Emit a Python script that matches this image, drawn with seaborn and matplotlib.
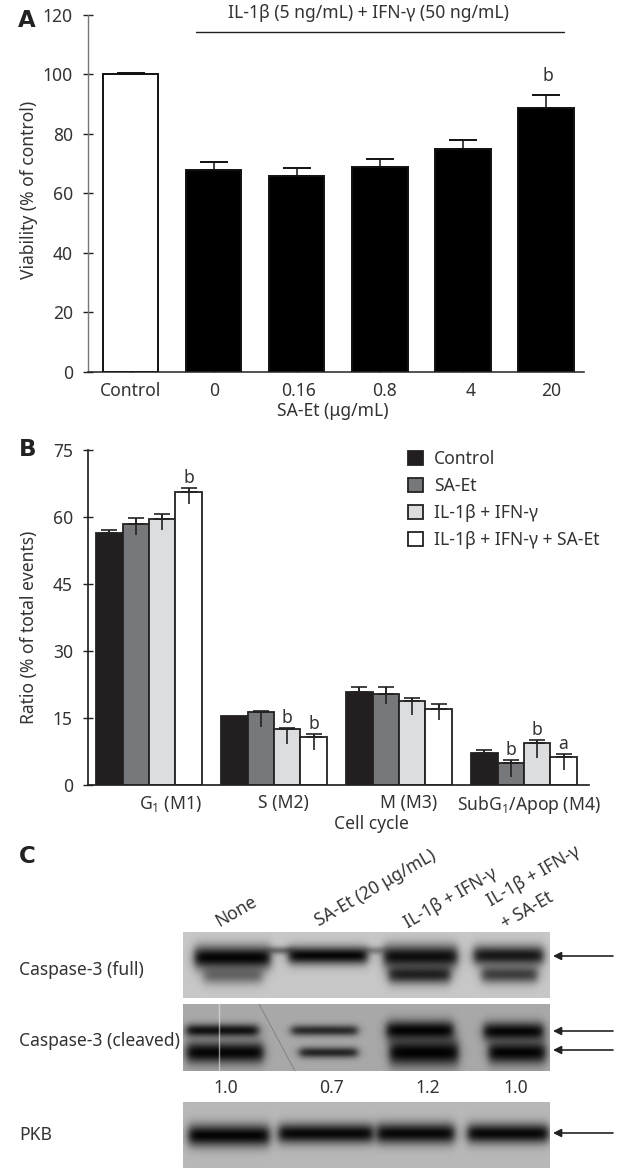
import matplotlib
matplotlib.use('Agg')
import matplotlib.pyplot as plt
from matplotlib.transforms import ScaledTranslation
import seaborn as sns
import pandas as pd
import numpy as np

# Panel A
doses = ['Control', '0', '0.16', '0.8', '4', '20']
viability = [100, 67.7, 65.7, 68.8, 75, 88.5]
viability_err = [0.5, 2.8, 2.8, 2.7, 2.8, 4.5]
# Panel B
phases = ['$\\mathregular{G_1}$ (M1)', 'S (M2)', 'M (M3)', 'Sub$\\mathregular{G_1}$/Apop (M4)']
treatments = ['Control', 'SA-Et', 'IL-1β + IFN-γ', 'IL-1β + IFN-γ + SA-Et']
control = [56.5, 15.4, 20.8, 7.3]
sa_et = [58.5, 16.3, 20.4, 4.9]
cytokines = [59.6, 12.5, 18.8, 9.4]
cytokines_sa = [65.5, 10.8, 17.0, 6.3]
err_up = [[0.7, 0.0, 1.1, 0.6], [1.2, 0.4, 1.5, 0.8], [1.1, 0.4, 0.7, 0.7], [1.0, 0.7, 1.1, 0.7]]
err_down = [[0.0, 0.0, 0.0, 0.0], [2.6, 3.3, 2.2, 3.0], [2.5, 3.3, 3.1, 3.4], [2.6, 3.0, 2.5, 2.9]]
sig_letters = {(3, 0): 'b', (2, 1): 'b', (3, 1): 'b', (1, 3): 'b', (2, 3): 'b', (3, 3): 'a'}
bar_colors = ['#231f20', '#77787b', '#dcddde', '#ffffff']
# Panel C: bands are (left, right, centre, half height, darkness)
lanes = ['None', 'SA-Et (20 μg/mL)', 'IL-1β + IFN-γ', 'IL-1β + IFN-γ', '+ SA-Et']
lane_anchor = [(221, 930), (321, 930), (410, 932), (493, 910), (507, 932)]
ratios = ['1.0', '0.7', '1.2', '1.0']
full_bands = [(194, 270, 957, 11.5, 0.98), (203, 262, 975, 9, 0.45),
              (288, 367, 955, 9, 0.97), (268, 292, 950, 4, 0.45), (365, 384, 950, 4, 0.35),
              (383, 457, 956, 11.5, 0.93), (388, 450, 974, 9.5, 0.82),
              (473, 543, 955, 10, 0.88), (481, 537, 974, 9, 0.68)]
cleaved_bands = [(186, 258, 1030, 6.5, 0.90), (186, 263, 1052, 11, 0.97),
                 (291, 357, 1030, 5.5, 0.75), (299, 357, 1052, 5.5, 0.78),
                 (386, 453, 1030, 10, 0.98), (389, 458, 1052, 13.5, 0.99),
                 (483, 543, 1031, 9.5, 0.96), (488, 545, 1052, 11.5, 0.98)]
pkb_bands = [(188, 269, 1135, 11, 0.98), (278, 373, 1133, 10, 0.96),
             (376, 454, 1133, 10.5, 0.96), (467, 548, 1133, 10, 0.96)]
arrow_rows = [956, 1031, 1050, 1133]

sns.set_theme(style='white', rc={'axes.edgecolor': '#222222'})
plt.rcParams['font.family'] = ['Noto Sans', 'DejaVu Sans']
plt.rcParams['mathtext.default'] = 'regular'
TXT = '#333333'
FS = 12.6
W, H = 630, 1170


def axes_px(fig, left, right, top, bottom):
    return fig.add_axes([left / W, 1 - bottom / H, (right - left) / W, (bottom - top) / H])


def shift_labels(ax, fig, offsets):
    # tick labels in the figure sit off-centre from their bars
    for lab, dx in zip(ax.get_xticklabels(), offsets):
        lab.set_transform(lab.get_transform() + ScaledTranslation(dx / 100, 0, fig.dpi_scale_trans))


def draw_blot(ov, top, bottom, bands, bg):
    X, Y = np.meshgrid(np.arange(183, 550), np.arange(top, bottom))
    img = np.full(X.shape, bg, dtype=float)
    for x0, x1, yc, half, dark in bands:
        fx = 0.5 * (np.tanh((X - x0) / 5) - np.tanh((X - x1) / 5))
        fy = np.exp(-np.abs((Y - yc) / half) ** 2)
        img *= 1 - dark * fx * fy
    ov.imshow(img, cmap='gray', vmin=0, vmax=1, extent=(183, 550, bottom, top),
              aspect='auto', interpolation='bilinear')


fig = plt.figure(figsize=(6.3, 11.7), dpi=100)

# A - viability
ax_a = axes_px(fig, 87.5, 584, 14.5, 372)
df_a = pd.DataFrame({'dose': doses, 'viability': viability})
sns.barplot(data=df_a, x='dose', y='viability', order=doses, errorbar=None, width=0.67,
            color='black', edgecolor='#111111', linewidth=1.4, ax=ax_a)
ax_a.patches[0].set_facecolor('white')
centres = [p.get_x() + p.get_width() / 2 for p in ax_a.patches]
ax_a.errorbar(centres, viability, yerr=[[0] * 6, viability_err], fmt='none', ecolor='#111111',
              elinewidth=1.1, capsize=10, capthick=1.4, zorder=3)
for line in ax_a.lines:
    line.set_color('#808080')
ax_a.set_xlim(-0.519, 5.46)
ax_a.set_ylim(0, 120)
ax_a.set_yticks(range(0, 121, 20))
ax_a.set_xlabel('SA-Et (μg/mL)', fontsize=FS, color=TXT, labelpad=0)
ax_a.xaxis.set_label_coords((333 - 87.5) / 496.5, -0.084, transform=ax_a.transAxes)
ax_a.set_ylabel('Viability (% of control)', fontsize=FS, color=TXT, labelpad=0)
ax_a.yaxis.set_label_coords((38 - 87.5) / 496.5, (372 - 190) / 357.5, transform=ax_a.transAxes)
ax_a.tick_params(axis='y', left=True, direction='inout', length=7, width=1, pad=7,
                 labelsize=FS, labelcolor=TXT, color='#222222')
ax_a.tick_params(axis='x', bottom=True, direction='in', length=6, width=1, pad=7,
                 labelsize=FS, labelcolor=TXT, color='#555555')
shift_labels(ax_a, fig, [0, 1, 1.5, 5, 8, 5])
sns.despine(ax=ax_a)
ax_a.spines['left'].set_color('#777777')
ax_a.spines['left'].set_linewidth(1)
ax_a.spines['bottom'].set_linewidth(1.1)
ax_a.text(centres[5] + 0.02, viability[5] + viability_err[5] + 3.4, 'b', ha='center', va='bottom',
          fontsize=FS, color=TXT)

# B - cell cycle
ax_b = axes_px(fig, 87.5, 589, 450, 785.3)
df_b = pd.DataFrame({'phase': phases, 'Control': control, 'SA-Et': sa_et,
                     treatments[2]: cytokines, treatments[3]: cytokines_sa})
df_b = df_b.melt(id_vars='phase', var_name='treatment', value_name='ratio')
sns.barplot(data=df_b, x='phase', y='ratio', hue='treatment', order=phases, hue_order=treatments,
            palette=bar_colors, saturation=1, errorbar=None, width=0.845,
            edgecolor='#222222', linewidth=1.3, ax=ax_b)
for h, cont in enumerate(list(ax_b.containers)):
    for g, bar in enumerate(cont):
        xc = bar.get_x() + bar.get_width() / 2
        top = bar.get_height()
        if err_up[h][g] > 0:
            ax_b.errorbar(xc, top, yerr=[[err_down[h][g]], [err_up[h][g]]], fmt='none',
                          ecolor='#222222', elinewidth=1.2, zorder=3)
            ax_b.errorbar(xc, top, yerr=[[0], [err_up[h][g]]], fmt='none', ecolor='#222222',
                          elinewidth=1.2, capsize=6, capthick=1.2, zorder=3)
        if (h, g) in sig_letters:
            ax_b.text(xc, top + err_up[h][g] + 0.2, sig_letters[(h, g)], ha='center', va='bottom',
                      fontsize=FS, color=TXT)
ax_b.set_xlim(-0.492, 3.52)
ax_b.set_ylim(0, 75)
ax_b.set_yticks(range(0, 76, 15))
ax_b.set_xlabel('Cell cycle', fontsize=FS, color=TXT)
ax_b.xaxis.set_label_coords((371.5 - 87.5) / 501.5, -0.089, transform=ax_b.transAxes)
ax_b.set_ylabel('Ratio (% of total events)', fontsize=FS, color=TXT)
ax_b.yaxis.set_label_coords((38 - 87.5) / 501.5, (785.3 - 627) / 335.3, transform=ax_b.transAxes)
ax_b.tick_params(axis='y', left=True, direction='inout', length=7, width=1, pad=7,
                 labelsize=FS, labelcolor=TXT, color='#222222')
ax_b.tick_params(axis='x', bottom=True, direction='in', length=3, width=1.2, pad=6,
                 labelsize=FS, labelcolor=TXT, color='#222222')
shift_labels(ax_b, fig, [21.5, 9.5, 9.5, 4.5])
sns.despine(ax=ax_b)
ax_b.legend(title=None, loc='upper left', bbox_to_anchor=((408 - 87.5) / 501.5, 1.0), frameon=False,
            fontsize=FS, labelcolor=TXT, handlelength=0.88, handleheight=0.88, handletextpad=0.6,
            labelspacing=0.52, borderpad=0, borderaxespad=0)

# overlay in image pixels for panel letters, header and the blots
ov = fig.add_axes([0, 0, 1, 1], facecolor='none')
draw_blot(ov, 932, 998, full_bands, 0.78)
draw_blot(ov, 1004, 1071, cleaved_bands, 0.66)
draw_blot(ov, 1102, 1168, pkb_bands, 0.72)
ov.plot([219, 219], [1004, 1071], color='#e8e8e8', lw=1, alpha=0.6)
ov.plot([259, 295], [1004, 1071], color='#555555', lw=0.6, alpha=0.5)
ov.set_xlim(0, W)
ov.set_ylim(H, 0)
ov.axis('off')

ov.plot([196, 564], [31.7, 31.7], color='#222222', lw=1)
ov.text(368, 13, 'IL-1β (5 ng/mL) + IFN-γ (50 ng/mL)', ha='center', va='center', fontsize=FS, color=TXT)
for letter, x, y in [('A', 18, 27), ('B', 19, 456), ('C', 19, 863)]:
    ov.text(x, y, letter, fontsize=16.5, fontweight='bold', family='DejaVu Sans', color='#222222',
            ha='left', va='baseline')

for name, y in [('Caspase-3 (full)', 970), ('Caspase-3 (cleaved)', 1040.7), ('PKB', 1135)]:
    ov.text(19, y, name, fontsize=FS, color=TXT, ha='left', va='center')
for val, x in zip(ratios, [225.7, 331, 428, 516]):
    ov.text(x, 1087.7, val, fontsize=FS, color=TXT, ha='center', va='center')
for name, (x, y) in zip(lanes, lane_anchor):
    ov.text(x, y, name, rotation=30, rotation_mode='anchor', ha='left', va='bottom',
            fontsize=FS, color=TXT)
for y in arrow_rows:
    ov.annotate('', xy=(553, y), xytext=(613, y),
                arrowprops=dict(arrowstyle='-|>', color='#222222', lw=1.2, mutation_scale=12,
                                shrinkA=0, shrinkB=0))

fig.savefig('out.png', dpi=100)
plt.close(fig)
